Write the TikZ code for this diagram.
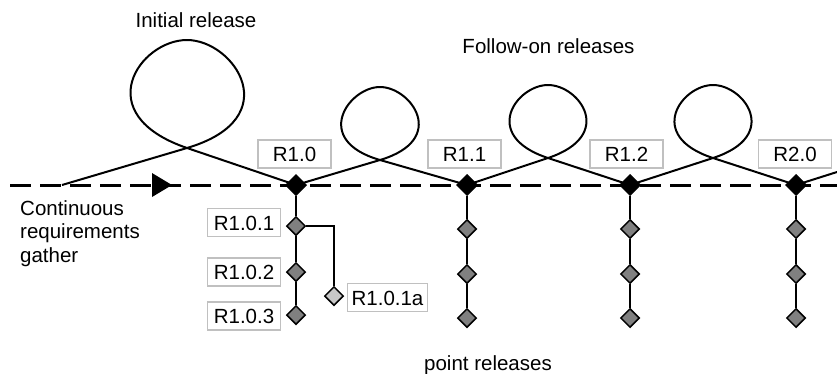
\documentclass[tikz,border=0pt]{standalone}
\usepackage{fontspec}
\setmainfont{Liberation Sans}
\usetikzlibrary{shapes.geometric}

\definecolor{ptgray}{HTML}{808080}
\definecolor{subgray}{HTML}{C8C8C8}
\definecolor{taggray}{HTML}{C0C0C0}
\newcommand\labelfont{\fontsize{20.5}{23.5}\selectfont}

\tikzset{
  mainrel/.style={diamond, fill=black, draw=black, line width=1pt, inner sep=0pt,
    minimum width=21pt, minimum height=21pt},
  pointrel/.style={diamond, fill=ptgray, draw=black, line width=1.5pt, inner sep=0pt,
    minimum width=19pt, minimum height=19pt},
  subrel/.style={pointrel, fill=subgray},
  tag/.style={draw=taggray, line width=1.5pt, fill=white, font=\labelfont,
    minimum width=73pt, inner xsep=4pt, inner ysep=6.5pt,
    text height=15pt, text depth=0pt},
  caption/.style={font=\labelfont},
  timeline/.style={line width=3pt, dash pattern=on 21pt off 9pt},
  spiral/.style={line width=2pt},
  chainline/.style={line width=2pt}
}

\begin{document}
\begin{tikzpicture}[x=1pt,y=-1pt]
\useasboundingbox (0,0) rectangle (837,373);

% timeline and release points
\coordinate (tl0) at (10,185);
\coordinate (tl1) at (837,185);
\coordinate (s)  at (62,185);
\coordinate (p0) at (296,185);
\coordinate (p1) at (467,185);
\coordinate (p2) at (630,185);
\coordinate (p3) at (796,185);
\coordinate (e)  at (837,172);

% loop crossings and tops
\coordinate (x1) at (187,148); \coordinate (t1) at (187,40);
\coordinate (x2) at (380,160); \coordinate (t2) at (380,87);
\coordinate (x3) at (548,158); \coordinate (t3) at (548,85);
\coordinate (x4) at (713,158); \coordinate (t4) at (713,85);

\draw[timeline] (tl0) -- (tl1);
\fill (152,173) -- (172,185) -- (152,197) -- cycle;

% release cycles
\draw[spiral] (s) -- (x1)
  .. controls (287.7,118.2) and (234,40) .. (t1)
  .. controls (140,40) and (87.7,114) .. (x1) -- (p0) -- (x2)
  .. controls (449,139.5) and (411,87) .. (t2)
  .. controls (349,87) and (310.8,140.1) .. (x2) -- (p1) -- (x3)
  .. controls (616.3,135.2) and (579,85) .. (t3)
  .. controls (517,85) and (479.6,135.5) .. (x3) -- (p2) -- (x4)
  .. controls (781.5,135.8) and (744,85) .. (t4)
  .. controls (682,85) and (644.5,135.8) .. (x4) -- (p3) -- (e);

% main releases
\node[mainrel] (r10) at (p0) {};
\node[mainrel] (r11) at (p1) {};
\node[mainrel] (r12) at (p2) {};
\node[mainrel] (r20) at (p3) {};

% point releases
\node[pointrel] (q101) at (296,226) {};
\node[pointrel] (q102) at (296,272) {};
\node[pointrel] (q103) at (296,315) {};
\node[subrel]   (q101a) at (334,296) {};
\coordinate (bend) at (334,226);

\node[pointrel] (q111) at (467,229) {};
\node[pointrel] (q112) at (467,274) {};
\node[pointrel] (q113) at (467,318) {};

\node[pointrel] (q121) at (630,229) {};
\node[pointrel] (q122) at (630,274) {};
\node[pointrel] (q123) at (630,318) {};

\node[pointrel] (q201) at (796,229) {};
\node[pointrel] (q202) at (796,274) {};
\node[pointrel] (q203) at (796,318) {};

\draw[chainline] (r10) -- (q101) -- (q102) -- (q103);
\draw[chainline] (q101) -- (bend) -- (q101a);
\draw[chainline] (r11) -- (q111) -- (q112) -- (q113);
\draw[chainline] (r12) -- (q121) -- (q122) -- (q123);
\draw[chainline] (r20) -- (q201) -- (q202) -- (q203);

% release tags
\node[tag] (l10) at (294.5,154) {R1.0};
\node[tag] (l11) at (464.5,154) {R1.1};
\node[tag] (l12) at (626.5,154) {R1.2};
\node[tag] (l20) at (795,154) {R2.0};
\node[tag] (l101) at (244,222.5) {R1.0.1};
\node[tag] (l102) at (244,272) {R1.0.2};
\node[tag] (l103) at (244,316) {R1.0.3};
\node[tag] (l101a) at (387.5,297.5) {R1.0.1a};

% captions
\node[caption, anchor=base] (initial) at (196,27) {Initial release};
\node[caption, anchor=base] (followon) at (548.5,53) {Follow-on releases};
\node[caption, anchor=base] (points) at (488,370) {point releases};
\node[caption, anchor=north west, inner sep=0pt, align=left] (gather) at (20,200)
  {Continuous\\requirements\\gather};
\end{tikzpicture}
\end{document}
